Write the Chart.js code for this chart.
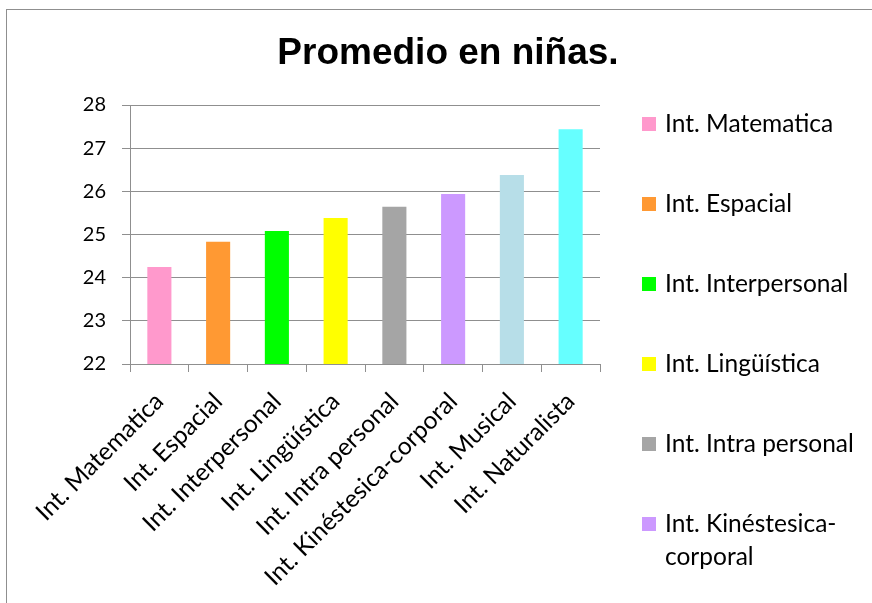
<!DOCTYPE html>
<html>
<head>
<meta charset="utf-8">
<script src="https://cdn.jsdelivr.net/npm/chart.js@4.4.1/dist/chart.umd.min.js"></script>
<style>
  html, body { margin: 0; padding: 0; background: #fff; }
  canvas { display: block; }
</style>
</head>
<body>
<canvas id="promedioChart" width="872" height="603"></canvas>
<script>
// datos
const chartTitle = 'Promedio en niñas.';
const categories = [
  'Int. Matematica',
  'Int. Espacial',
  'Int. Interpersonal',
  'Int. Lingüística',
  'Int. Intra personal',
  'Int. Kinéstesica-corporal',
  'Int. Musical',
  'Int. Naturalista'
];
const promedios = [24.25, 24.83, 25.08, 25.38, 25.64, 25.94, 26.38, 27.44];
const barColors = ['#ff99cc', '#ff9933', '#00ff00', '#ffff00', '#a5a5a5', '#cc99ff', '#b7dee8', '#66ffff'];
const yMin = 22;
const yMax = 28;
const yStep = 1;

const gridGray = '#8f8f8f';
const textFont = 'Lato, "Noto Sans", sans-serif';

// marco, titulo y leyenda dibujados a mano (la leyenda de Excel se corta abajo)
const excelLook = {
    id: 'excelLook',
    beforeDraw(chart) {
        const ctx = chart.ctx;
        ctx.save();
        ctx.fillStyle = '#fff';
        ctx.fillRect(0, 0, chart.width, chart.height);
        ctx.strokeStyle = gridGray;
        ctx.lineWidth = 1;
        ctx.strokeRect(6.5, 9.5, chart.width + 20, chart.height + 20);
        ctx.restore();
    },
    afterDraw(chart) {
        const ctx = chart.ctx;
        ctx.save();
        ctx.fillStyle = '#000';
        ctx.font = 'bold 37px "Liberation Sans", Arial, sans-serif';
        ctx.textAlign = 'center';
        ctx.textBaseline = 'alphabetic';
        ctx.fillText(chartTitle, 448, 64);

        ctx.font = '24.5px ' + textFont;
        ctx.textAlign = 'left';
        let y = 124;
        categories.forEach((label, i) => {
            let lines = [label];
            if (ctx.measureText(label).width > 205 && label.includes('-')) {
                const cut = label.indexOf('-') + 1;
                lines = [label.slice(0, cut), label.slice(cut)];
            }
            ctx.fillStyle = barColors[i];
            ctx.fillRect(642, y - 7, 14, 14);
            ctx.fillStyle = '#000';
            lines.forEach((line, j) => {
                ctx.fillText(line, 665, y + 8 + j * 33);
            });
            y += 80 + (lines.length - 1) * 33;
        });
        ctx.restore();
    }
};

new Chart(document.getElementById('promedioChart'), {
    type: 'bar',
    data: {
        labels: categories,
        datasets: [{
            label: chartTitle,
            data: promedios,
            backgroundColor: barColors,
            borderWidth: 0,
            barPercentage: 0.41,
            categoryPercentage: 1
        }]
    },
    options: {
        responsive: false,
        animation: false,
        devicePixelRatio: 1,
        layout: {
            padding: { top: 105, right: 272, bottom: 0, left: 0 }
        },
        scales: {
            x: {
                grid: {
                    drawOnChartArea: false,
                    drawTicks: true,
                    tickLength: 8,
                    color: gridGray
                },
                border: { color: gridGray, width: 1 },
                ticks: {
                    color: '#000',
                    font: { family: textFont, size: 24.5 },
                    minRotation: 45,
                    maxRotation: 45,
                    autoSkip: false,
                    padding: 15
                },
                afterFit(scale) {
                    scale.height = 239;
                }
            },
            y: {
                min: yMin,
                max: yMax,
                grid: {
                    color: gridGray,
                    tickLength: 8
                },
                border: { color: gridGray, width: 1 },
                ticks: {
                    stepSize: yStep,
                    color: '#000',
                    font: { family: textFont, size: 20 },
                    padding: 16
                },
                afterFit(scale) {
                    scale.width = 130;
                }
            }
        },
        plugins: {
            legend: { display: false },
            title: { display: false },
            tooltip: { enabled: false }
        }
    },
    plugins: [excelLook]
});
</script>
</body>
</html>
